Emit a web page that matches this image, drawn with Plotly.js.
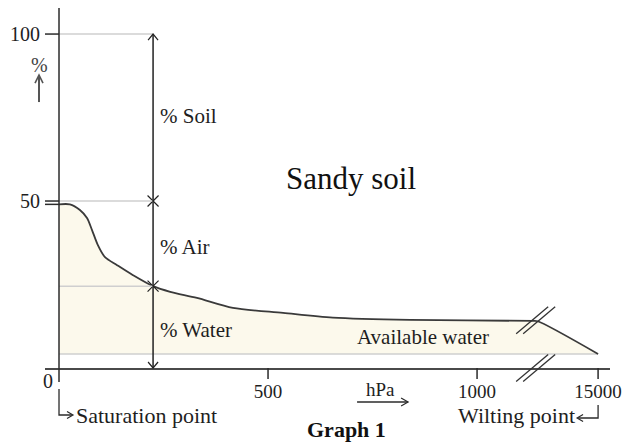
<!DOCTYPE html>
<html><head><meta charset="utf-8">
<script src="https://cdn.plot.ly/plotly-3.0.1.min.js"></script>
<style>html,body{margin:0;padding:0;background:#fff}#chart{width:626px;height:446px}</style>
</head><body><div id="chart"></div>
<script>
// ---- data ----
const pressure = [0, 26, 50, 67, 79, 93, 110, 139, 177, 225, 266, 330, 416, 536, 655, 840, 1134, 1145, 15000];
const waterContent = [49, 49, 47.3, 44.9, 41.3, 36.8, 33.2, 30.8, 27.8, 24.5, 22.8, 21.0, 18.0, 16.5, 15.1, 14.4, 14.1, 14.0, 4.2];
const wiltingWater = 4.2;
const readPressure = 225;
const compositionLevels = [0, 24.5, 50, 100];
const compositionLabels = ['% Water', '% Air', '% Soil'];
const xTickVals = [500, 1000, 15000];
const xTickText = ['500', '1000', '15000'];
const yTickVals = [50, 100];
const yTickText = ['50', '100'];
const breakPressure = 1145;
const maxPressure = 15000;

// ---- broken axis scale ----
const BRK_SPAN = 144.5;
function axisX(p){ return p <= breakPressure ? p : breakPressure + (p - breakPressure) * BRK_SPAN / (maxPressure - breakPressure); }

const X0 = -33.5, X1 = 1318, Y0 = 0, Y1 = 107.8;
const PW = 565, PH = 360;
const xp = v => (v - X0) / (X1 - X0);
const yp = v => (v - Y0) / (Y1 - Y0);
const ox = p => p / PW;
const oy = p => p / PH;
const SERIF = '"Liberation Serif", "Times New Roman", serif';
const DARK = '#2b2b2b';

function path(pts){ return pts.map((q,i)=> (i? 'L':'M') + q[0].toFixed(5) + ',' + q[1].toFixed(5)).join(' '); }
function vHead(tx, ty, ux, uy, len, half){
  const bx = -ux*len, by = -uy*len, px = -uy*half, py = ux*half;
  return path([[tx + ox(bx + px), ty + oy(by + py)], [tx, ty], [tx + ox(bx - px), ty + oy(by - py)]]);
}
const shapes = [];
function addPath(d, color, width){ shapes.push({type:'path', xref:'paper', yref:'paper', path:d, line:{color:color, width:width}}); }
function addLine(x0,y0,x1,y1,color,width){ shapes.push({type:'line', xref:'paper', yref:'paper', x0:x0,y0:y0,x1:x1,y1:y1, line:{color:color,width:width}}); }

// grey reference lines at the reading pressure
compositionLevels.slice(1).forEach(l => addLine(xp(0), yp(l), xp(readPressure), yp(l), '#cfcfcf', 1.5));
// y axis line (extends a little below x axis)
addLine(xp(0), 1, xp(0), -oy(14), DARK, 1.5);
// y tick dashes
addLine(0, yp(100), xp(0), yp(100), DARK, 1.5);
addLine(0, yp(50), xp(0), yp(50), DARK, 1.5);
addLine(0, yp(waterContent[0]), xp(0), yp(waterContent[0]), DARK, 1.5);
// x tick marks
xTickVals.forEach(v => addLine(xp(axisX(v)), 0, xp(axisX(v)), -oy(11), DARK, 1.5));
// vertical double arrow
const ax = xp(readPressure);
addLine(ax, yp(0), ax, yp(100), '#222', 1.5);
addPath(vHead(ax, yp(100), 0, 1, 6, 5), '#222', 1.2);
addPath(vHead(ax, yp(0), 0, -1, 6, 5), '#222', 1.2);
// % arrow
const pax = xp(0) - ox(20);
addLine(pax, yp(100) - oy(68), pax, yp(100) - oy(42), '#555', 2);
addPath(vHead(pax, yp(100) - oy(41), 0, 1, 8, 4), '#555', 1.6);
// axis break marks
const bx = xp(axisX(breakPressure)) - ox(2);
[[bx, yp(14.3)], [bx, yp(0)]].forEach(c => {
  [-3.5, 3.5].forEach(off => addLine(c[0] + ox(off - 16), c[1] - oy(13.5), c[0] + ox(off + 16), c[1] + oy(13.5), '#333', 1.3));
});
// saturation hook
const sx = xp(0);
addPath(path([[sx, -oy(21)], [sx, -oy(47)], [sx + ox(13), -oy(47)]]), DARK, 1.3);
addPath(vHead(sx + ox(14), -oy(47), 1, 0, 6, 3.5), DARK, 1.2);
// wilting hook
const wx = xp(axisX(maxPressure));
addPath(path([[wx, -oy(37)], [wx, -oy(50)], [wx - ox(20), -oy(50)]]), DARK, 1.3);
addPath(vHead(wx - ox(21), -oy(50), -1, 0, 6, 3.5), DARK, 1.2);
// hPa arrow
addLine(xp(713), -oy(34), xp(835), -oy(34), DARK, 1.3);
addPath(vHead(xp(835), -oy(34), 1, 0, 7, 4), DARK, 1.2);

// ---- traces ----
const xAxisVals = pressure.map(axisX);
const traces = [
  {x:[axisX(0), axisX(maxPressure)], y:[wiltingWater, wiltingWater], mode:'lines', line:{color:'#cfcfcf', width:1.5}, hoverinfo:'skip'},
  {x:xAxisVals, y:waterContent, mode:'lines', fill:'tonexty', fillcolor:'#fcf9ec', line:{color:'#3a3a3a', width:1.8, shape:'spline', smoothing:0.8}, hoverinfo:'skip'},
  {x:[readPressure, readPressure], y:[compositionLevels[2], compositionLevels[1]], mode:'markers', marker:{symbol:'x-thin', size:11, line:{width:1.2, color:'#222'}}, hoverinfo:'skip'}
];

const txt = (s, c) => ({family:SERIF, size:s, color:c || '#1e1e1e'});
const annotations = [];
compositionLabels.forEach((t, i) => annotations.push({
  xref:'x', yref:'y', x:readPressure, y:(compositionLevels[i] + compositionLevels[i+1]) / 2,
  xanchor:'left', yanchor:'middle', xshift:5, yshift:(i === 2 ? 2 : -3), text:t, showarrow:false, font:txt(21)
}));
annotations.push(
  {xref:'x', yref:'y', x:698, y:56.6, text:'Sandy soil', showarrow:false, font:txt(31, '#111'), xanchor:'center', yanchor:'middle'},
  {xref:'x', yref:'y', x:871, y:9.4, text:'Available water', showarrow:false, font:txt(21), xanchor:'center', yanchor:'middle'},
  {xref:'paper', yref:'paper', x:xp(0) - ox(11), y:-oy(13), text:'0', showarrow:false, font:txt(20), xanchor:'center', yanchor:'middle'},
  {xref:'paper', yref:'paper', x:pax, y:yp(100) - oy(31), text:'%', showarrow:false, font:txt(20, '#444'), xanchor:'center', yanchor:'middle'},
  {xref:'paper', yref:'paper', x:xp(768), y:-oy(21.3), text:'hPa', showarrow:false, font:txt(19), xanchor:'center', yanchor:'middle'},
  {xref:'paper', yref:'paper', x:sx + ox(15), y:-oy(47), text:'Saturation point', showarrow:false, font:txt(22), xanchor:'left', yanchor:'middle'},
  {xref:'paper', yref:'paper', x:wx - ox(21), y:-oy(47), text:'Wilting point', showarrow:false, font:txt(22), xanchor:'right', yanchor:'middle'},
  {xref:'paper', yref:'paper', x:xp(588), y:-oy(61), text:'<b>Graph 1</b>', showarrow:false, font:txt(22, '#111'), xanchor:'left', yanchor:'middle'}
);

const layout = {
  width:626, height:446, margin:{l:45, r:16, t:8, b:78},
  paper_bgcolor:'#ffffff', plot_bgcolor:'#ffffff', showlegend:false,
  xaxis:{range:[X0, X1], showgrid:false, zeroline:false, showline:true, linecolor:'#4a4a4a', linewidth:2,
    ticks:'', ticklabelstandoff:5,
    tickvals:xTickVals.map(axisX), ticktext:xTickText, tickfont:txt(19), fixedrange:true},
  yaxis:{range:[Y0, Y1], showgrid:false, zeroline:false, showline:false, ticks:'', ticklabelstandoff:4,
    tickvals:yTickVals, ticktext:yTickText, tickfont:txt(20), fixedrange:true},
  shapes:shapes, annotations:annotations
};
Plotly.newPlot('chart', traces, layout, {displayModeBar:false, staticPlot:true});
</script></body></html>
